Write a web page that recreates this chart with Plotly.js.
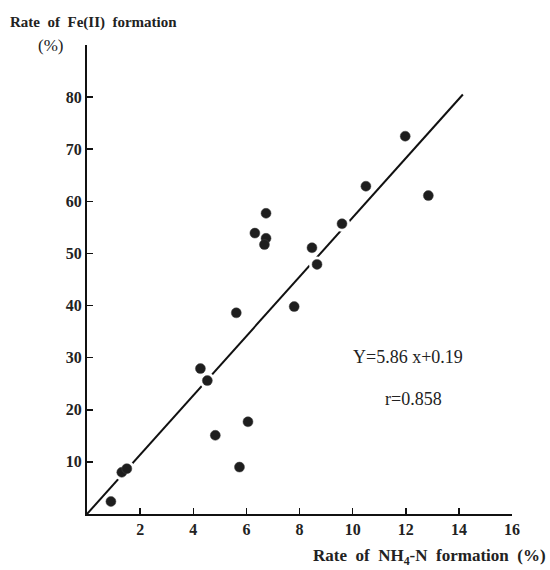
<!DOCTYPE html>
<html>
<head>
<meta charset="utf-8">
<script src="https://cdn.plot.ly/plotly-3.0.1.min.js"></script>
<style>html,body{margin:0;padding:0;background:#fff;}#chart{width:550px;height:570px;}</style>
</head>
<body>
<div id="chart"></div>
<script>
// NH4-N formation rate (%) vs Fe(II) formation rate (%)
const nh4Rate = [0.90, 1.31, 1.50, 4.27, 4.53, 4.83, 5.62, 5.74, 6.06, 6.32, 6.74, 6.74, 6.68, 7.80, 8.47, 8.66, 9.60, 10.50, 11.98, 12.85];
const fe2Rate = [2.4, 8.0, 8.7, 27.9, 25.6, 15.1, 38.6, 9.0, 17.7, 53.9, 57.7, 52.9, 51.7, 39.8, 51.1, 47.9, 55.7, 62.9, 72.5, 61.1];
// regression line as drawn: Y = 5.86x + 0.19
const lineX = [0, 14.15];
const lineY = [0, 80.5];
const xTicks = [2, 4, 6, 8, 10, 12, 14, 16];
const yTicks = [10, 20, 30, 40, 50, 60, 70, 80, 90];
const yTickText = ['10', '20', '30', '40', '50', '60', '70', '80', ''];

const serif = 'Liberation Serif, Times New Roman, serif';
const sp = '&nbsp;&nbsp;';

const traces = [
  {x: lineX, y: lineY, mode: 'lines', type: 'scatter',
   line: {color: '#111', width: 2}, hoverinfo: 'skip', showlegend: false},
  // white halo that breaks the line around each point
  {x: nh4Rate, y: fe2Rate, mode: 'markers', type: 'scatter',
   marker: {size: 16, color: '#ffffff'}, hoverinfo: 'skip', showlegend: false},
  {x: nh4Rate, y: fe2Rate, mode: 'markers', type: 'scatter',
   marker: {size: 10, color: '#1e1e1e', line: {color: '#444', width: 0.5}},
   showlegend: false}
];

const layout = {
  width: 550, height: 570,
  margin: {l: 87, r: 38, t: 45, b: 56},
  paper_bgcolor: '#fff', plot_bgcolor: '#fff',
  font: {family: serif, color: '#222', size: 15},
  showlegend: false,
  xaxis: {
    range: [0, 16], tickvals: xTicks, ticktext: xTicks.map(String),
    showgrid: false, zeroline: false, showline: true, linecolor: '#111', linewidth: 2,
    ticks: 'inside', ticklen: 6, tickwidth: 1.5, tickcolor: '#111',
    tickfont: {family: serif, size: 16, color: '#222', weight: 'bold'}
  },
  yaxis: {
    range: [0, 90], tickvals: yTicks, ticktext: yTickText,
    showgrid: false, zeroline: false, showline: true, linecolor: '#111', linewidth: 2,
    ticks: 'inside', ticklen: 6, tickwidth: 1.5, tickcolor: '#111',
    tickfont: {family: serif, size: 16, color: '#222', weight: 'bold'}
  },
  annotations: [
    {xref: 'paper', yref: 'paper', x: -0.186, y: 1.047, xanchor: 'left', yanchor: 'middle',
     text: '<b>Rate' + sp + 'of' + sp + 'Fe(II)' + sp + 'formation</b>', showarrow: false,
     font: {family: serif, size: 15, color: '#222'}},
    {xref: 'paper', yref: 'paper', x: -0.12, y: 0.998, xanchor: 'left', yanchor: 'middle',
     text: '(%)', showarrow: false,
     font: {family: serif, size: 17, color: '#222'}},
    {xref: 'paper', yref: 'paper', x: 1.085, y: -0.092, xanchor: 'right', yanchor: 'middle',
     text: '<b>Rate' + sp + 'of' + sp + 'NH<sub>4</sub>-N' + sp + 'formation' + sp + '(%)</b>', showarrow: false,
     font: {family: serif, size: 17, color: '#222'}},
    {xref: 'x', yref: 'y', x: 12.07, y: 30.1, xanchor: 'center', yanchor: 'middle',
     text: 'Y=5.86 x+0.19', showarrow: false,
     font: {family: serif, size: 18, color: '#222'}},
    {xref: 'x', yref: 'y', x: 12.28, y: 22.1, xanchor: 'center', yanchor: 'middle',
     text: 'r=0.858', showarrow: false,
     font: {family: serif, size: 18, color: '#222'}}
  ]
};

Plotly.newPlot('chart', traces, layout, {displayModeBar: false, staticPlot: true});
</script>
</body>
</html>
